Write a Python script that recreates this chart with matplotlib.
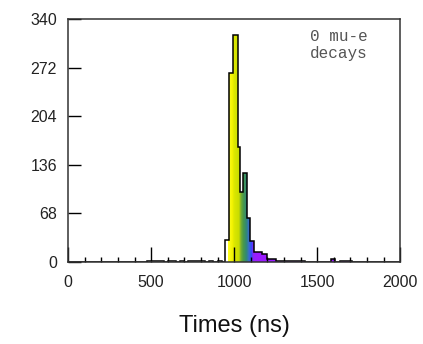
import numpy as np
import matplotlib
matplotlib.use("Agg")
import matplotlib.pyplot as plt
from matplotlib.colors import LinearSegmentedColormap
from matplotlib.ticker import MultipleLocator

plt.rcParams["font.family"] = ["Liberation Sans", "DejaVu Sans"]

# histogram of decay times (ns), bin edges
bin_edges = [0, 475, 500, 525, 550, 575, 600, 625, 650, 675, 700, 725, 750, 775,
             800, 825, 850, 875, 900, 925, 945, 969, 995, 1026, 1035, 1053, 1080,
             1098, 1118, 1140, 1165, 1198, 1225, 1255, 1280, 1300, 1325, 1350,
             1375, 1400, 1425, 1585, 1610, 1635, 1660, 1685, 1710, 2000]
counts = [0, 1, 2, 2, 1, 0, 2, 1, 0, 1, 0, 1, 2, 2,
          1, 0, 1, 0, 1, 0, 31, 265, 318, 161, 98, 125,
          61, 30, 14, 14, 12, 4, 4, 2, 1, 2, 1,
          2, 2, 1, 0, 4, 0, 1, 1, 2, 0]

y_ticks = [0, 68, 136, 204, 272, 340]
x_ticks = [0, 500, 1000, 1500, 2000]

# colour ramp along the time axis
ramp_ns = [965, 990, 1000, 1030, 1040, 1055, 1075, 1090, 1105, 1115, 1130, 2000]
ramp_colors = ["#ffff20", "#f2f200", "#dce800", "#c8dc00", "#7ab030", "#4a9a48",
               "#2f8878", "#3a6cd0", "#3048ff", "#8a28f8", "#9b1cff", "#9b1cff"]

fig = plt.figure(figsize=(4.23, 3.44), dpi=100)
ax = fig.add_axes([0.161, 0.238, 0.785, 0.707])

lo, hi = ramp_ns[0], ramp_ns[-1]
stops = [(v - lo) / (hi - lo) for v in ramp_ns]
cmap = LinearSegmentedColormap.from_list("ramp", list(zip(stops, ramp_colors)))
grad = np.linspace(0, 1, 4000)[None, :]

shape = ax.stairs(counts, bin_edges, fill=True, facecolor="none", edgecolor="none")
im = ax.imshow(grad, cmap=cmap, aspect="auto", extent=[lo, hi, 0, 340],
               interpolation="bilinear", zorder=1)
im.set_clip_path(shape)
ax.stairs(counts, bin_edges, color="black", lw=1.1, zorder=2)

ax.set_xlim(0, 2000)
ax.set_ylim(0, 340)
ax.set_xticks(x_ticks)
ax.set_yticks(y_ticks)
ax.xaxis.set_minor_locator(MultipleLocator(100))
ax.tick_params(axis="x", which="major", direction="in", length=10.5, width=1,
               pad=9, labelsize=11.5, labelcolor="#222")
ax.tick_params(axis="x", which="minor", direction="in", length=3.6, width=1)
ax.tick_params(axis="y", which="major", direction="in", length=9.5, width=1,
               pad=8, labelsize=11.5, labelcolor="#222")
for s in ax.spines.values():
    s.set_linewidth(1.1)
    s.set_color("#333")

ax.set_xlabel("Times (ns)", fontsize=17, labelpad=18, color="#111")
ax.text(0.816, 0.96, "0 mu-e\ndecays", transform=ax.transAxes, ha="center",
        va="top", family="Liberation Mono", fontsize=11.5, color="#555",
        linespacing=1.2)

fig.savefig("out.png", dpi=100)
